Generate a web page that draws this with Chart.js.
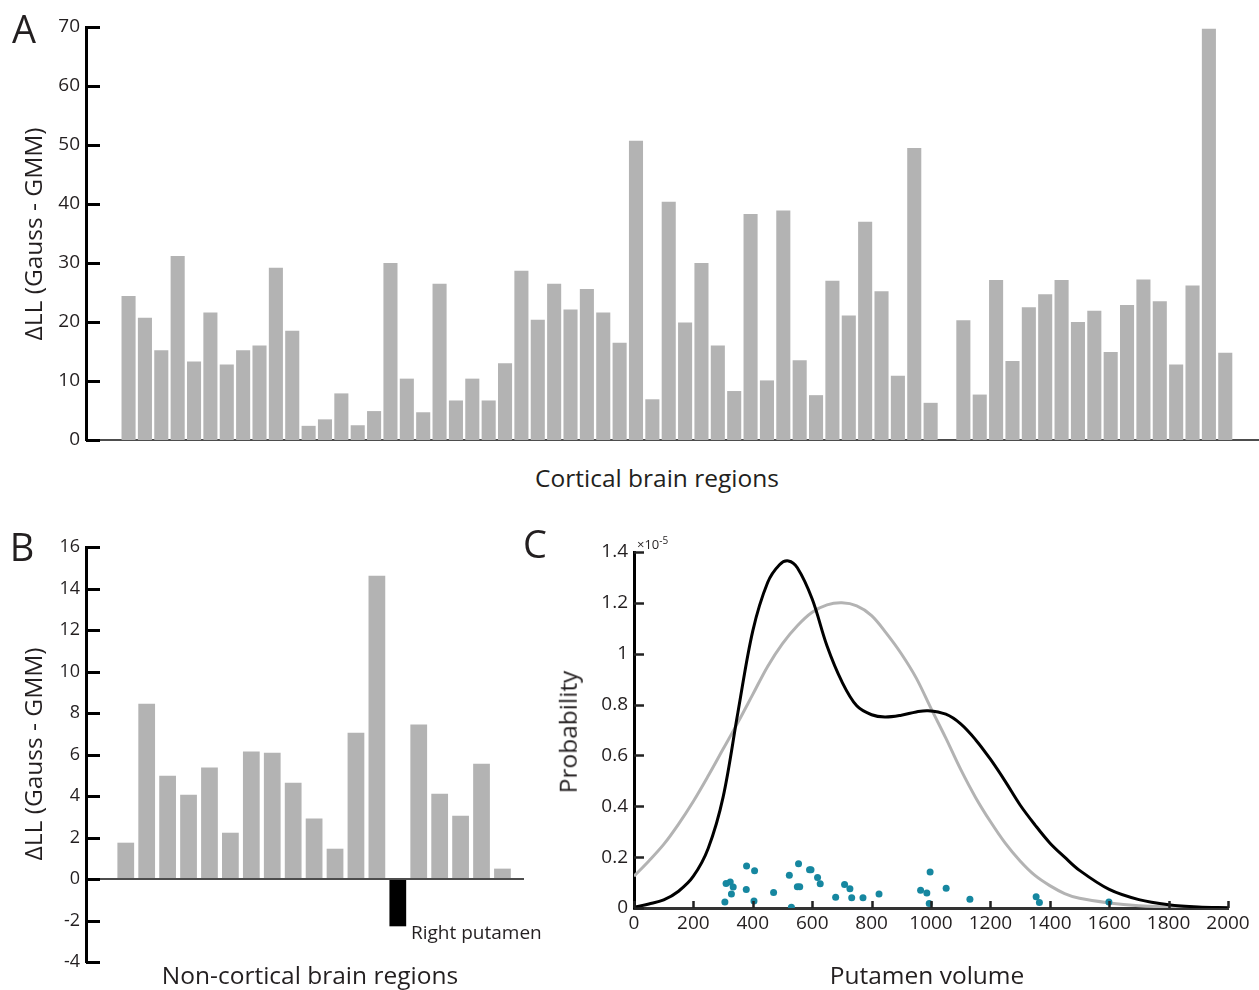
<!DOCTYPE html>
<html>
<head>
<meta charset="utf-8">
<script src="https://cdn.jsdelivr.net/npm/chart.js@4.4.1/dist/chart.umd.min.js"></script>
<style>
  body { margin: 0; background: #fff; font-family: "Open Sans", sans-serif; color: #231f20; }
  #page { position: relative; width: 1259px; height: 990px; overflow: hidden; }
  canvas { position: absolute; }
  .txt { position: absolute; white-space: nowrap; line-height: 1; transform: translate(-50%, -50%); }
  .rot { transform: translate(-50%, -50%) rotate(-90deg); }
  .letter { font-size: 38px; }
  .title { font-size: 24.5px; }
</style>
</head>
<body>
<div id="page">
  <canvas id="chartA" width="1259" height="460" style="left:0;top:0"></canvas>
  <canvas id="chartB" width="560" height="490" style="left:0;top:500px"></canvas>
  <canvas id="chartC" width="699" height="490" style="left:560px;top:500px"></canvas>

  <div class="txt letter" style="left:24px;top:28px">A</div>
  <div class="txt letter" style="left:22px;top:546px">B</div>
  <div class="txt letter" style="left:535px;top:543px">C</div>

  <div class="txt title rot" style="left:33px;top:234px">ΔLL (Gauss - GMM)</div>
  <div class="txt title" style="left:657px;top:478px">Cortical brain regions</div>
  <div class="txt title rot" style="left:33px;top:754px">ΔLL (Gauss - GMM)</div>
  <div class="txt title" style="left:310px;top:975px">Non-cortical brain regions</div>
  <div class="txt" style="left:411px;top:932px;font-size:19px;transform:translate(0,-50%)">Right putamen</div>
  <div class="txt title rot" style="left:568px;top:732px">Probability</div>
  <div class="txt title" style="left:927px;top:975px">Putamen volume</div>
  <div class="txt" style="left:637px;top:543px;font-size:13px;transform:translate(0,-50%)">×10<sup style="font-size:10px">-5</sup></div>
</div>

<script>
// Panel A: cortical regions (null = empty slot)
const corticalDeltaLL = [24.4, 20.7, 15.2, 31.2, 13.3, 21.6, 12.8, 15.2, 16.0, 29.2, 18.5, 2.4, 3.5, 7.9, 2.5, 4.9,
  30.0, 10.4, 4.7, 26.5, 6.7, 10.4, 6.7, 13.0, 28.7, 20.4, 26.5, 22.1, 25.6, 21.6, 16.5, 50.7, 6.9, 40.4, 19.9,
  30.0, 16.0, 8.3, 38.3, 10.1, 38.9, 13.5, 7.6, 27.0, 21.1, 37.0, 25.2, 10.9, 49.5, 6.3, null, 20.3, 7.7, 27.1,
  13.4, 22.5, 24.7, 27.1, 20.0, 21.9, 14.9, 22.9, 27.2, 23.5, 12.8, 26.2, 69.7, 14.8];

// Panel B: non-cortical regions
const nonCorticalDeltaLL = [1.75, 8.45, 4.98, 4.06, 5.37, 2.23, 6.14, 6.09, 4.64, 2.91, 1.46, 7.05, 14.62, -2.28,
  7.44, 4.11, 3.05, 5.56, 0.50];
const highlightIndex = 13; // Right putamen

// Panel C: densities (x10^-5)
const gmmVolume = [0, 50, 100, 150, 200, 250, 300, 350, 400, 450, 490, 520, 550, 600, 650, 700, 750, 800, 845, 900,
  950, 990, 1050, 1100, 1150, 1200, 1250, 1300, 1350, 1400, 1450, 1500, 1600, 1700, 1800, 1900, 2000];
const gmmProb = [0.003, 0.016, 0.032, 0.066, 0.125, 0.235, 0.436, 0.77, 1.09, 1.28, 1.35, 1.365, 1.338, 1.215, 1.03,
  0.89, 0.795, 0.76, 0.751, 0.758, 0.771, 0.776, 0.762, 0.724, 0.662, 0.585, 0.498, 0.405, 0.327, 0.256, 0.2, 0.148,
  0.073, 0.033, 0.013, 0.004, 0.001];
const gaussVolume = [0, 50, 100, 150, 200, 250, 300, 350, 400, 450, 500, 550, 600, 650, 700, 750, 800, 850, 900, 950,
  1000, 1050, 1100, 1150, 1200, 1250, 1300, 1350, 1400, 1450, 1500, 1600, 1700, 1800, 1900, 2000];
const gaussProb = [0.125, 0.185, 0.25, 0.33, 0.42, 0.52, 0.625, 0.73, 0.84, 0.95, 1.04, 1.11, 1.163, 1.192, 1.2,
  1.188, 1.15, 1.08, 1.0, 0.905, 0.785, 0.668, 0.545, 0.435, 0.34, 0.255, 0.185, 0.128, 0.088, 0.057, 0.038, 0.02,
  0.009, 0.004, 0.001, 0];
const subjectVolume = [306, 310, 324, 334, 328, 379, 378, 406, 404, 470, 523, 554, 550, 558, 530, 591, 596, 618, 627,
  679, 709, 727, 733, 771, 825, 965, 986, 997, 994, 1051, 1131, 1354, 1365, 1599];
const subjectJitter = [0.024, 0.096, 0.102, 0.083, 0.055, 0.165, 0.073, 0.146, 0.028, 0.061, 0.129, 0.174, 0.084,
  0.084, 0.003, 0.150, 0.150, 0.12, 0.095, 0.042, 0.092, 0.076, 0.040, 0.040, 0.055, 0.070, 0.059, 0.142, 0.018,
  0.078, 0.034, 0.044, 0.022, 0.024];

const FONT = '"Open Sans", sans-serif';
const TEXT = '#231f20';
Chart.defaults.font.family = FONT;
Chart.defaults.color = TEXT;

// ticks drawn inward from the axes
const inwardTicks = {
  id: 'inwardTicks',
  afterDatasetsDraw(chart, args, opts) {
    const {ctx, chartArea, scales} = chart;
    ctx.save();
    ctx.strokeStyle = opts.color || '#000';
    ctx.lineWidth = opts.width || 3;
    ctx.beginPath();
    if (opts.yLen) {
      scales.y.ticks.forEach(t => {
        const y = Math.round(scales.y.getPixelForValue(t.value)) + 0.5;
        ctx.moveTo(chartArea.left, y);
        ctx.lineTo(chartArea.left + opts.yLen, y);
      });
    }
    if (opts.xLen) {
      scales.x.ticks.forEach(t => {
        const x = Math.round(scales.x.getPixelForValue(t.value)) + 0.5;
        ctx.moveTo(x, chartArea.bottom);
        ctx.lineTo(x, chartArea.bottom - opts.xLen);
      });
    }
    ctx.stroke();
    ctx.restore();
  }
};

const noPlugins = { legend: { display: false }, tooltip: { enabled: false } };

// Panel A
new Chart(document.getElementById('chartA'), {
  type: 'bar',
  data: {
    datasets: [{
      data: corticalDeltaLL.map((v, i) => ({ x: i, y: v })),
      backgroundColor: '#b3b3b3',
      categoryPercentage: 1,
      barPercentage: 0.86
    }]
  },
  options: {
    responsive: false,
    animation: false,
    layout: { padding: { top: 27, right: 1, bottom: 0, left: 0 } },
    plugins: { ...noPlugins, inwardTicks: { yLen: 14, width: 3 } },
    scales: {
      x: {
        type: 'linear', min: -2.6, max: 69, offset: false,
        ticks: { display: false },
        grid: { display: false, drawTicks: false, offset: false },
        border: { color: '#4d4d4d', width: 2 },
        afterFit: s => { s.height = 20; }
      },
      y: {
        min: 0, max: 70,
        ticks: { stepSize: 10, font: { size: 19 }, padding: 6, color: TEXT },
        grid: { display: false, drawTicks: false },
        border: { color: '#000', width: 3 },
        afterFit: s => { s.width = 86; }
      }
    }
  },
  plugins: [inwardTicks]
});

// Panel B
new Chart(document.getElementById('chartB'), {
  type: 'bar',
  data: {
    datasets: [{
      data: nonCorticalDeltaLL.map((v, i) => ({ x: i, y: v })),
      backgroundColor: nonCorticalDeltaLL.map((v, i) => i === highlightIndex ? '#000' : '#b3b3b3'),
      categoryPercentage: 1,
      barPercentage: 0.8
    }]
  },
  options: {
    responsive: false,
    animation: false,
    layout: { padding: { top: 47, right: 36, bottom: 0, left: 0 } },
    plugins: { ...noPlugins, inwardTicks: { yLen: 14, width: 3 } },
    scales: {
      x: {
        type: 'linear', min: -1.9, max: 19.03, offset: false,
        ticks: { display: false },
        grid: { display: false, drawTicks: false, offset: false },
        border: { display: false },
        afterFit: s => { s.height = 28; }
      },
      y: {
        min: -4, max: 16,
        ticks: { stepSize: 2, font: { size: 18 }, padding: 6, color: TEXT },
        grid: {
          drawTicks: false,
          color: c => (c.tick && c.tick.value === 0) ? '#4d4d4d' : 'rgba(0,0,0,0)',
          lineWidth: 2
        },
        border: { color: '#000', width: 3 },
        afterFit: s => { s.width = 86; }
      }
    }
  },
  plugins: [inwardTicks]
});

// Panel C
new Chart(document.getElementById('chartC'), {
  type: 'scatter',
  data: {
    datasets: [
      {
        data: subjectVolume.map((v, i) => ({ x: v, y: subjectJitter[i] })),
        backgroundColor: '#1687a0',
        borderWidth: 0,
        pointRadius: 3.5
      },
      {
        data: gmmVolume.map((v, i) => ({ x: v, y: gmmProb[i] })),
        showLine: true,
        borderColor: '#000',
        borderWidth: 3,
        pointRadius: 0,
        tension: 0.35
      },
      {
        data: gaussVolume.map((v, i) => ({ x: v, y: gaussProb[i] })),
        showLine: true,
        borderColor: '#b3b3b3',
        borderWidth: 3,
        pointRadius: 0,
        tension: 0.35
      }
    ]
  },
  options: {
    responsive: false,
    animation: false,
    layout: { padding: { top: 52, right: 31, bottom: 0, left: 0 } },
    plugins: { ...noPlugins, inwardTicks: { yLen: 10, xLen: 7, width: 2.5, color: '#222' } },
    scales: {
      x: {
        type: 'linear', min: 0, max: 2000,
        ticks: { stepSize: 200, font: { size: 19 }, padding: 4, color: TEXT, maxRotation: 0, callback: v => String(v) },
        grid: { display: false, drawTicks: false },
        border: { color: '#333', width: 3 },
        afterFit: s => { s.height = 82; }
      },
      y: {
        min: 0, max: 1.4,
        ticks: {
          stepSize: 0.2, font: { size: 19 }, padding: 6, color: TEXT,
          callback: v => String(Number(v.toFixed(1)))
        },
        grid: { display: false, drawTicks: false },
        border: { color: '#000', width: 3 },
        afterFit: s => { s.width = 74; }
      }
    }
  },
  plugins: [inwardTicks]
});
</script>
</body>
</html>
